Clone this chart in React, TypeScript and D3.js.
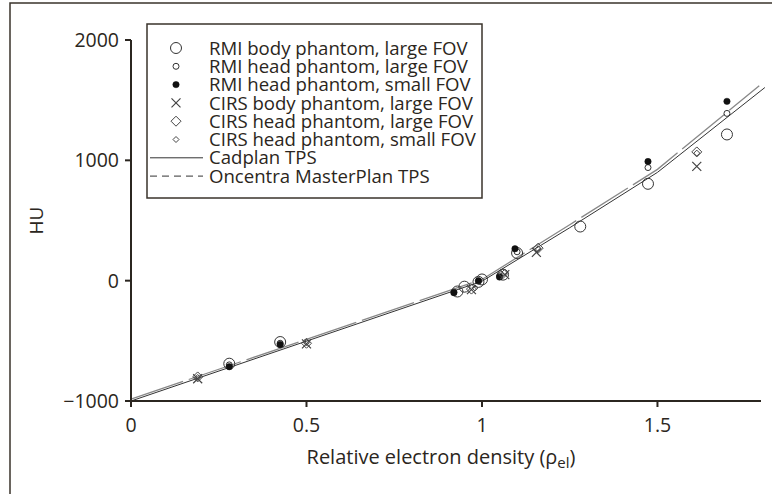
import React from "react";
import * as d3 from "d3";

type Pt = [number, number];

const xTicks = [0, 0.5, 1, 1.5];
const xTickLabels = ["0", "0.5", "1", "1.5"];
const yTicks = [-1000, 0, 1000, 2000];
const yTickLabels = ["\u22121000", "0", "1000", "2000"];

const rmiBodyLarge: Pt[] = [
  [0.28, -690], [0.425, -510], [0.93, -90], [0.95, -50], [0.99, -10],
  [1.0, 10], [1.06, 50], [1.1, 230], [1.28, 450], [1.473, 805], [1.698, 1215],
];
const rmiHeadLarge: Pt[] = [
  [0.28, -700], [0.425, -520], [0.92, -95], [0.99, -5], [1.05, 40],
  [1.1, 240], [1.473, 940], [1.698, 1390],
];
const rmiHeadSmall: Pt[] = [
  [0.28, -715], [0.425, -530], [0.92, -100], [0.99, 0], [1.05, 30],
  [1.094, 265], [1.473, 990], [1.698, 1490],
];
const cirsBodyLarge: Pt[] = [
  [0.19, -815], [0.5, -525], [0.97, -75], [1.065, 50], [1.155, 235], [1.612, 950],
];
const cirsHeadLarge: Pt[] = [
  [0.19, -800], [0.5, -520], [0.97, -70], [1.06, 60], [1.16, 270], [1.612, 1070],
];
const cirsHeadSmall: Pt[] = [
  [0.19, -805], [0.5, -515], [0.98, -60], [1.065, 70], [1.16, 265], [1.612, 1060],
];

const cadplan: Pt[] = [[0, -1000], [1.0, -5], [1.25, 440], [1.5, 900], [1.806, 1605]];
const oncentra: Pt[] = [[0, -985], [1.0, 10], [1.25, 465], [1.5, 925], [1.79, 1620]];

const legendLabels = [
  "RMI body phantom, large FOV",
  "RMI head phantom, large FOV",
  "RMI head phantom, small FOV",
  "CIRS body phantom, large FOV",
  "CIRS head phantom, large FOV",
  "CIRS head phantom, small FOV",
  "Cadplan TPS",
  "Oncentra MasterPlan TPS",
];

const INK = "#2b2620";
const FONT = "'Open Sans', 'Noto Sans', sans-serif";

function Marker({ kind, cx, cy }: { kind: number; cx: number; cy: number }) {
  switch (kind) {
    case 0:
      return <circle cx={cx} cy={cy} r={5.5} fill="none" stroke="#333" strokeWidth={1} />;
    case 1:
      return <circle cx={cx} cy={cy} r={3} fill="none" stroke="#333" strokeWidth={1} />;
    case 2:
      return <circle cx={cx} cy={cy} r={3.2} fill="#111" stroke="#111" strokeWidth={0.5} />;
    case 3: {
      const s = 4.5;
      return (
        <path
          d={`M${cx - s},${cy - s}L${cx + s},${cy + s}M${cx - s},${cy + s}L${cx + s},${cy - s}`}
          stroke="#444"
          strokeWidth={1.2}
          fill="none"
        />
      );
    }
    case 4: {
      const s = 5;
      return (
        <path
          d={`M${cx},${cy - s}L${cx + s},${cy}L${cx},${cy + s}L${cx - s},${cy}Z`}
          stroke="#444"
          strokeWidth={1}
          fill="none"
        />
      );
    }
    default: {
      const s = 3;
      return (
        <path
          d={`M${cx},${cy - s}L${cx + s},${cy}L${cx},${cy + s}L${cx - s},${cy}Z`}
          stroke="#444"
          strokeWidth={1}
          fill="none"
        />
      );
    }
  }
}

export default function App() {
  const x = d3.scaleLinear().domain([0, 1.795]).range([131, 761]);
  const y = d3.scaleLinear().domain([-1000, 2000]).range([401, 40]);
  const line = d3
    .line<Pt>()
    .x((d) => x(d[0]))
    .y((d) => y(d[1]));

  const series: Pt[][] = [
    rmiBodyLarge,
    rmiHeadLarge,
    rmiHeadSmall,
    cirsBodyLarge,
    cirsHeadLarge,
    cirsHeadSmall,
  ];

  const legX = 147;
  const legY = 24;
  const rowH = 18.3;

  return (
    <svg
      width={772}
      height={494}
      style={{ position: "fixed", left: 0, top: 0, background: "#fff" }}
      fontFamily={FONT}
    >
      <rect x={0} y={0} width={772} height={494} fill="#fff" />
      {/* outer frame */}
      <rect x={10} y={3} width={800} height={520} fill="none" stroke="#3a332b" strokeWidth={1.5} />

      {/* lines */}
      <path d={line(oncentra) ?? ""} fill="none" stroke="#888" strokeWidth={1.3} strokeDasharray="55,6" />
      <path d={line(cadplan) ?? ""} fill="none" stroke="#333" strokeWidth={1} />

      {/* points */}
      {series.map((s, i) =>
        s.map((d, j) => <Marker key={`${i}-${j}`} kind={i} cx={x(d[0])} cy={y(d[1])} />)
      )}

      {/* axes */}
      <line x1={131} y1={y(2000)} x2={131} y2={y(-1000)} stroke={INK} strokeWidth={2} />
      <line x1={130} y1={y(-1000)} x2={761} y2={y(-1000)} stroke={INK} strokeWidth={2} />
      {yTicks.map((t, i) => (
        <g key={`y${t}`}>
          <line x1={125} x2={131} y1={y(t)} y2={y(t)} stroke={INK} strokeWidth={2} />
          <text
            x={119}
            y={y(t)}
            dy="0.36em"
            textAnchor="end"
            fontSize={19.5}
            fill={INK}
          >
            {yTickLabels[i]}
          </text>
        </g>
      ))}
      {xTicks.map((t, i) => (
        <g key={`x${t}`}>
          <line x1={x(t)} x2={x(t)} y1={401} y2={407} stroke={INK} strokeWidth={2} />
          <text x={x(t)} y={432} textAnchor="middle" fontSize={19.5} fill={INK}>
            {xTickLabels[i]}
          </text>
        </g>
      ))}
      <text x={441} y={464} textAnchor="middle" fontSize={20} fill={INK}>
        Relative electron density (ρ
        <tspan fontSize={15} dy={4}>el</tspan>
        <tspan dy={-4}>)</tspan>
      </text>
      <text
        transform={`translate(43,${y(500)}) rotate(-90)`}
        textAnchor="middle"
        fontSize={19}
        fill={INK}
      >
        HU
      </text>

      {/* legend */}
      <rect x={legX} y={legY} width={335} height={174} fill="#fff" stroke="#3a332b" strokeWidth={1.5} />
      {legendLabels.map((lab, i) => {
        const cy = 48 + i * rowH;
        return (
          <g key={lab}>
            {i < 6 && <Marker kind={i} cx={176} cy={cy} />}
            {i === 6 && <line x1={150} x2={203} y1={cy} y2={cy} stroke="#333" strokeWidth={1} />}
            {i === 7 && (
              <line x1={150} x2={203} y1={cy} y2={cy} stroke="#333" strokeWidth={1} strokeDasharray="7,5" />
            )}
            <text x={209} y={cy} dy="0.36em" fontSize={18.6} fill={INK}>
              {lab}
            </text>
          </g>
        );
      })}
    </svg>
  );
}
